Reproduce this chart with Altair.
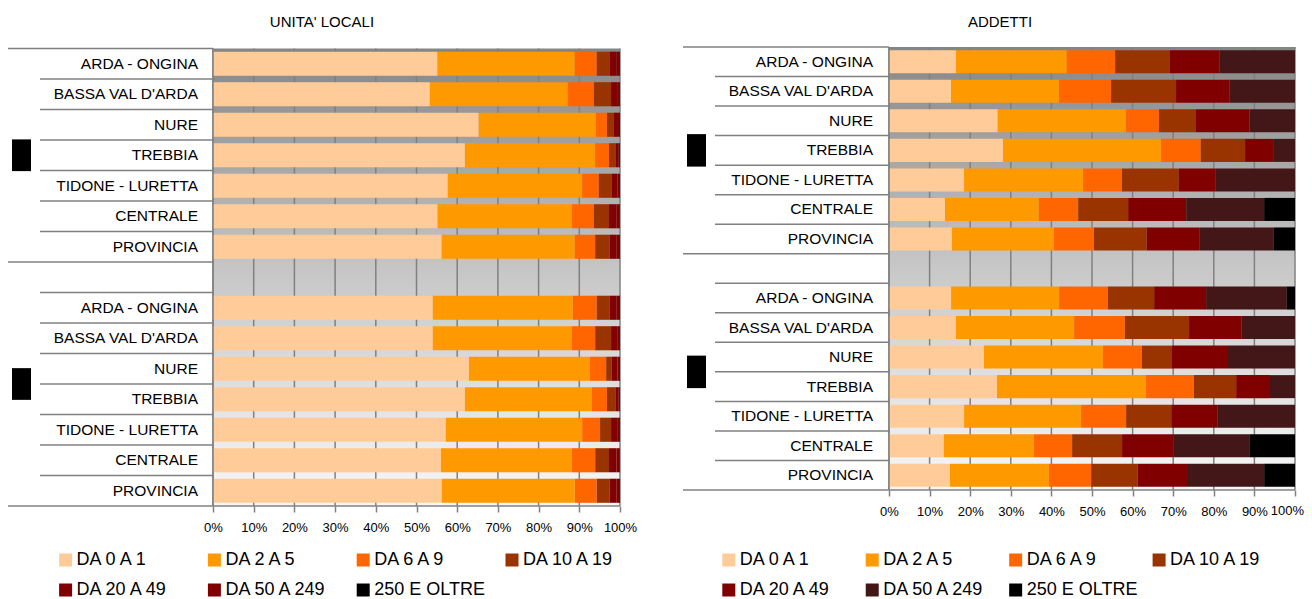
import altair as alt
import pandas as pd

FONT = "Liberation Sans"

classes = ["DA 0 A 1", "DA 2 A 5", "DA 6 A 9", "DA 10 A 19",
           "DA 20 A 49", "DA 50 A 249", "250 E OLTRE"]
colors_ul = ["#FFCC99", "#FF9900", "#FF6600", "#993300", "#800000", "#800000", "#000000"]
colors_add = ["#FFCC99", "#FF9900", "#FF6600", "#993300", "#800000", "#431618", "#000000"]

areas = ["ARDA - ONGINA", "BASSA VAL D'ARDA", "NURE", "TREBBIA",
         "TIDONE - LURETTA", "CENTRALE", "PROVINCIA"]

tick_values = [0, 0.1, 0.2, 0.3, 0.4, 0.5, 0.6, 0.7, 0.8, 0.9, 1.0]

# UNITA' LOCALI, first group (top) and second group (bottom); one list per area, shares by class (%)
ul_g1 = [
    [55.2, 33.7, 5.4, 3.2, 1.7, 0.8, 0.0],
    [53.3, 33.9, 6.4, 4.2, 1.5, 0.7, 0.0],
    [65.3, 28.8, 2.7, 1.7, 1.0, 0.5, 0.0],
    [61.9, 32.0, 3.4, 1.7, 0.7, 0.3, 0.0],
    [57.7, 33.0, 4.1, 3.2, 1.4, 0.6, 0.0],
    [55.2, 33.0, 5.4, 3.7, 1.8, 0.8, 0.1],
    [56.2, 32.7, 5.0, 3.6, 1.7, 0.8, 0.0],
]
ul_g2 = [
    [54.0, 34.4, 5.9, 3.2, 1.7, 0.8, 0.0],
    [54.0, 34.2, 5.7, 3.9, 1.5, 0.7, 0.0],
    [62.9, 29.7, 4.0, 1.4, 1.4, 0.6, 0.0],
    [61.9, 31.2, 3.7, 2.2, 0.7, 0.3, 0.0],
    [57.2, 33.5, 4.4, 2.7, 1.5, 0.7, 0.0],
    [56.0, 32.2, 5.7, 3.4, 1.8, 0.8, 0.1],
    [56.2, 32.7, 5.4, 3.2, 1.7, 0.8, 0.0],
]
# ADDETTI
ad_g1 = [
    [16.5, 27.3, 11.9, 13.5, 12.2, 18.6, 0.0],
    [15.3, 26.6, 12.8, 16.0, 13.2, 16.1, 0.0],
    [26.8, 31.6, 8.1, 9.1, 13.2, 11.2, 0.0],
    [28.1, 38.9, 9.8, 10.9, 7.1, 5.2, 0.0],
    [18.5, 29.3, 9.6, 14.0, 9.1, 19.5, 0.0],
    [13.8, 23.1, 9.7, 12.3, 14.3, 19.2, 7.6],
    [15.5, 25.1, 9.9, 13.0, 12.9, 18.4, 5.2],
]
ad_g2 = [
    [15.3, 26.6, 12.0, 11.4, 12.8, 19.9, 2.0],
    [16.5, 29.1, 12.5, 15.8, 13.0, 13.1, 0.0],
    [23.4, 29.3, 9.6, 7.4, 13.8, 16.5, 0.0],
    [26.6, 36.7, 11.8, 10.4, 8.1, 6.4, 0.0],
    [18.5, 28.8, 11.1, 11.1, 11.5, 19.0, 0.0],
    [13.5, 22.2, 9.4, 12.3, 12.6, 18.9, 11.1],
    [15.0, 24.4, 10.4, 11.5, 12.1, 19.0, 7.6],
]

# row layout: 7 areas, one blank row, 7 areas
row_labels = areas + [""] + areas
group_mid = [3.5, 11.0]
full_bounds = [0, 7]
inner_bounds = [1, 2, 3, 4, 5, 6, 8, 9, 10, 11, 12, 13, 14]


def bar_frame(g1, g2):
    recs = []
    for gi, grp in enumerate([g1, g2]):
        for ai, vals in enumerate(grp):
            row = ai if gi == 0 else ai + 8
            for ci, v in enumerate(vals):
                recs.append({"row": row, "cls": classes[ci], "ord": ci, "value": v})
    return pd.DataFrame(recs)


def panel(title, g1, g2, colors, p):
    xs = alt.Scale(domain=[0, 1], range=[p["x0"], p["x1"]], nice=False, zero=False)
    rs = alt.Scale(domain=[0, 15], range=[p["y0"], p["y1"]], nice=False, zero=False)
    bs = alt.Scale(domain=list(range(15)), range=[p["y0"], p["y1"]],
                   paddingInner=p["pad"], paddingOuter=p["pad"] / 2)
    cs = alt.Scale(domain=classes, range=colors)

    grad = alt.LinearGradient(
        gradient="linear",
        stops=[alt.GradientStop(color="#858585", offset=0),
               alt.GradientStop(color="#c8c8c8", offset=0.5),
               alt.GradientStop(color="#f8f8f8", offset=1)],
        x1=0, x2=0, y1=0, y2=1)

    bg = alt.Chart(pd.DataFrame({"a": [0], "b": [1], "c": [0], "d": [15]})).mark_rect(
        color=grad).encode(
        x=alt.X("a:Q", scale=xs, axis=None), x2="b:Q",
        y=alt.Y("c:Q", scale=rs, axis=None), y2="d:Q")

    grid = alt.Chart(pd.DataFrame({"t": tick_values, "c": 0, "d": 15})).mark_rule(
        color="#808080", strokeWidth=1.5).encode(
        x=alt.X("t:Q", scale=xs, axis=None),
        y=alt.Y("c:Q", scale=rs, axis=None), y2="d:Q")

    label_expr = "datum.value >= 1 ? '' : datum.label" if p["last_sep"] else "datum.label"
    bars = alt.Chart(bar_frame(g1, g2)).mark_bar(strokeWidth=0).encode(
        x=alt.X("value:Q", stack="normalize", scale=xs,
                axis=alt.Axis(values=tick_values, format="%", orient="bottom",
                              offset=p["axoff"], domain=False, grid=False,
                              tickSize=6, tickColor="#808080", tickWidth=1.5,
                              labelFont=FONT, labelFontSize=13, labelColor="#000000",
                              labelPadding=p["lpad"], labelFlush=False,
                              labelExpr=label_expr,
                              labelOverlap=False, title=None)),
        y=alt.Y("row:O", scale=bs, axis=None),
        color=alt.Color("cls:N", scale=cs, legend=None),
        order=alt.Order("ord:Q"))

    full_lines = alt.Chart(pd.DataFrame({"b": full_bounds})).mark_rule(
        color="#808080", strokeWidth=1.5).encode(
        x=alt.value(p["fx"]), x2=alt.value(p["x0"]),
        y=alt.Y("b:Q", scale=rs, axis=None))
    bottom_line = alt.Chart(pd.DataFrame({"b": [15]})).mark_rule(
        color="#808080", strokeWidth=1.5).encode(
        x=alt.value(p["fx"]), x2=alt.value(p["x1"]),
        y=alt.Y("b:Q", scale=rs, axis=None))
    inner_lines = alt.Chart(pd.DataFrame({"b": inner_bounds})).mark_rule(
        color="#808080", strokeWidth=1.5).encode(
        x=alt.value(p["ix"]), x2=alt.value(p["x0"]),
        y=alt.Y("b:Q", scale=rs, axis=None))
    yaxis = alt.Chart(pd.DataFrame({"c": [0], "d": [15]})).mark_rule(
        color="#808080", strokeWidth=1.5).encode(
        x=alt.value(p["x0"]),
        y=alt.Y("c:Q", scale=rs, axis=None), y2="d:Q")

    labels = alt.Chart(pd.DataFrame({"row": list(range(15)), "label": row_labels})).mark_text(
        align="right", baseline="middle", font=FONT, fontSize=15.5, color="#000000").encode(
        x=alt.value(p["lx"]),
        y=alt.Y("row:O", scale=bs, axis=None),
        text="label:N")

    boxes = alt.Chart(pd.DataFrame({"m": group_mid})).transform_calculate(
        ya="datum.m - " + str(p["bh"]), yb="datum.m + " + str(p["bh"])).mark_rect(
        color="#000000").encode(
        x=alt.value(p["bx0"]), x2=alt.value(p["bx1"]),
        y=alt.Y("ya:Q", scale=rs, axis=None), y2="yb:Q")

    ttl = alt.Chart(pd.DataFrame({"t": [title]})).mark_text(
        align="center", baseline="middle", font=FONT, fontSize=15, color="#000000").encode(
        x=alt.value(p["tx"]), y=alt.value(14), text="t:N")

    leg = pd.DataFrame({"cls": classes, "col": [0, 1, 2, 3, 0, 1, 2],
                        "lr": [0, 0, 0, 0, 1, 1, 1]})
    lx = alt.Scale(domain=[0, 3], range=[p["lg0"], p["lg1"]], nice=False, zero=False)
    ly = alt.Scale(domain=[0, 1], range=[552, 582], nice=False, zero=False)
    leg_sq = alt.Chart(leg).mark_square(size=169, opacity=1).encode(
        x=alt.X("col:Q", scale=lx, axis=None),
        y=alt.Y("lr:Q", scale=ly, axis=None),
        color=alt.Color("cls:N", scale=cs, legend=None))
    leg_tx = alt.Chart(leg).mark_text(
        align="left", baseline="middle", dx=11, font=FONT, fontSize=18,
        color="#000000").encode(
        x=alt.X("col:Q", scale=lx, axis=None),
        y=alt.Y("lr:Q", scale=ly, axis=None),
        text="cls:N")

    out = [bg, grid, bars, full_lines, inner_lines, bottom_line, yaxis,
           labels, boxes, ttl, leg_sq, leg_tx]

    if p["last_sep"]:
        # last tick label kept inside the page edge
        last = alt.Chart(pd.DataFrame({"t": [1.0], "s": ["100%"]})).mark_text(
            align="right", baseline="top", dx=9, font=FONT, fontSize=13,
            color="#000000").encode(
            x=alt.X("t:Q", scale=xs, axis=None),
            y=alt.value(p["y1"] + 6 + p["lpad"]),
            text="s:N")
        out.append(last)
    return out


H = 591
left = dict(x0=205, x1=612, y0=40.5, y1=498, pad=0.21, axoff=498 - H, lpad=9,
            fx=0, ix=32, lx=190, bx0=4, bx1=23, bh=0.52, tx=314,
            lg0=57.6, lg1=504.0, last_sep=False)
right = dict(x0=881, x1=1287, y0=39, y1=482, pad=0.22, axoff=482 - H, lpad=9,
             fx=675, ix=707, lx=865, bx0=679, bx1=698, bh=0.55, tx=992,
             lg0=720.8, lg1=1151.1, last_sep=True)

layers = panel("UNITA' LOCALI", ul_g1, ul_g2, colors_ul, left) + \
    panel("ADDETTI", ad_g1, ad_g2, colors_add, right)

chart = alt.layer(*layers).resolve_scale(
    x="independent", y="independent", color="independent"
).properties(
    width=1296, height=H,
    autosize=alt.AutoSizeParams(type="none"),
    padding=0,
    background="#ffffff"
).configure_view(stroke=None)

chart.save("out.html", embed_options={"renderer": "svg", "actions": False})
